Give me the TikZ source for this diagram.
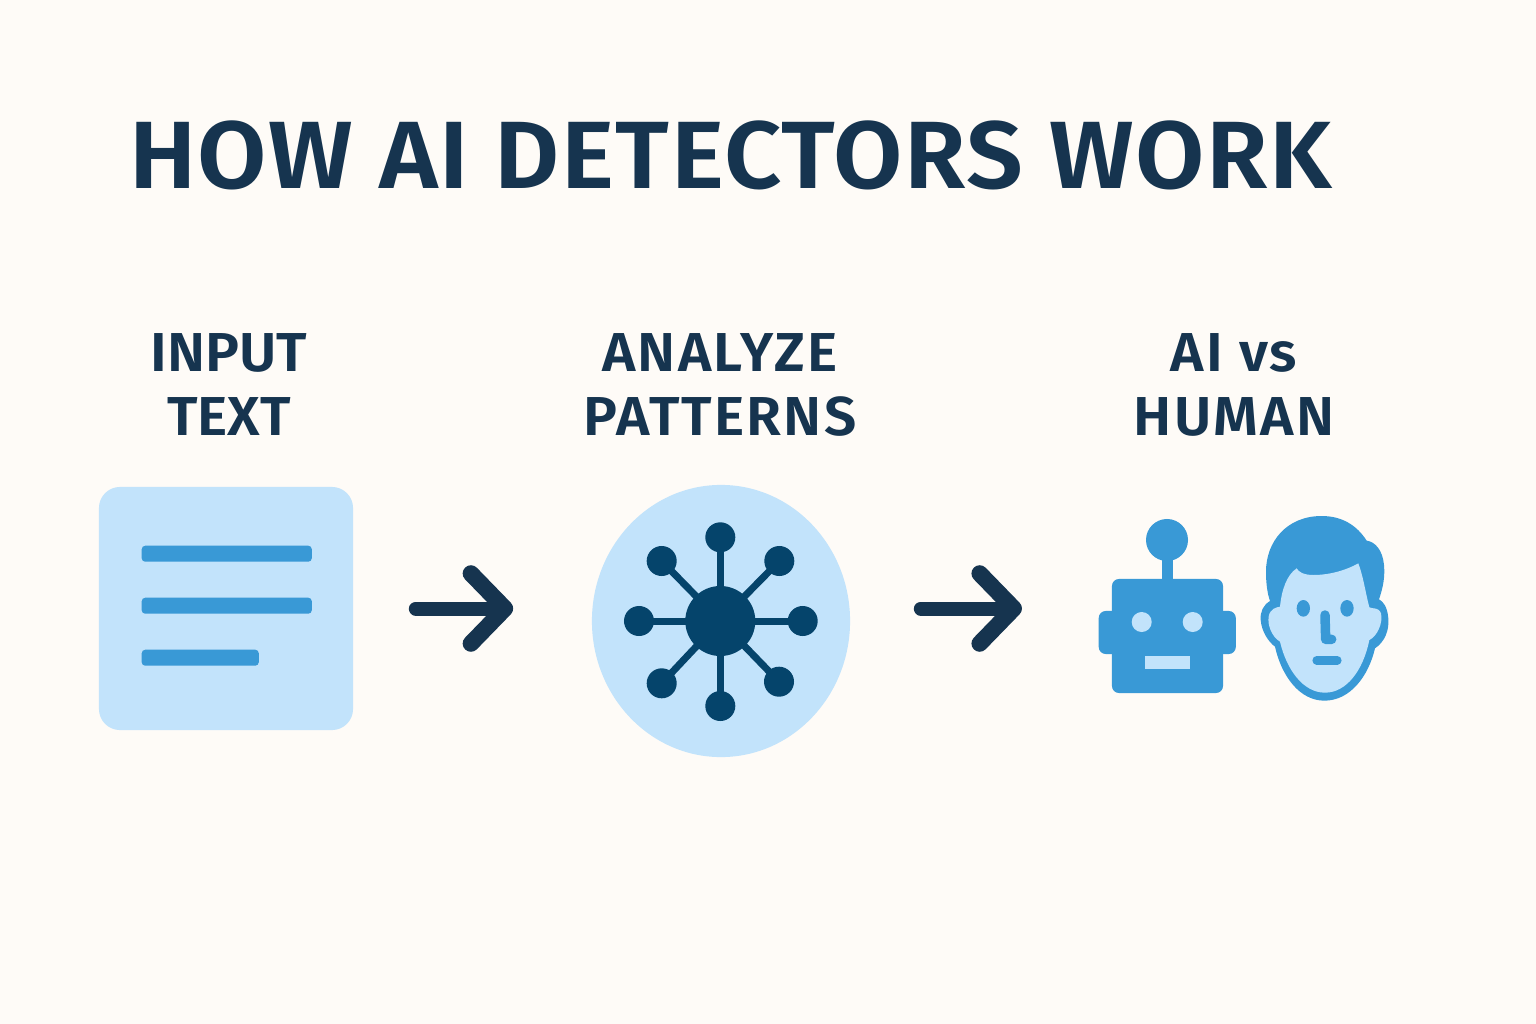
\documentclass[tikz,border=0pt]{standalone}
\usepackage{fontspec}
\usetikzlibrary{shapes.geometric, arrows.meta}
\newfontfamily\headfont[LetterSpace=1.5, FakeStretch=1.05]{Fira Sans SemiBold}
\newfontfamily\stepfont[LetterSpace=4.0, FakeStretch=1.04]{Fira Sans SemiBold}
\newfontfamily\tightfont[FakeStretch=1.04]{Fira Sans SemiBold}
\definecolor{paper}{RGB}{254,251,247}
\definecolor{navy}{RGB}{22,52,79}
\definecolor{pale}{RGB}{194,227,251}
\definecolor{midblue}{RGB}{57,153,214}
\definecolor{deep}{RGB}{5,68,107}

\begin{document}
\begin{tikzpicture}[
    x=0.01cm, y=-0.01cm,
    steplabel/.style={anchor=base, text=navy, inner sep=0pt, font=\stepfont\fontsize{15.6}{18}\selectfont},
    tightlabel/.style={steplabel, font=\tightfont\fontsize{15.6}{18}\selectfont},
    textbar/.style={anchor=north west, fill=midblue, draw=none, rounded corners=1pt, minimum height=0.16cm, inner sep=0pt},
    satellite/.style={circle, fill=deep, minimum size=0.30cm, inner sep=0pt},
    spoke/.style={draw=deep, line width=0.07cm},
    flowarrow/.style={draw=navy, line width=0.14cm, line cap=round, -{Straight Barb[round, length=0.34cm, width=0.70cm, line width=0.165cm]}},
    robotpart/.style={fill=midblue, draw=none, inner sep=0pt, rounded corners=2pt}
]
    % Background and page size
    \fill[paper] (0,0) rectangle (1536,1024);
    \useasboundingbox (0,0) rectangle (1536,1024);

    % Title
    \node[anchor=base, text=navy, inner sep=0pt, font=\headfont\fontsize{27.2}{30}\selectfont] (title) at (730.5,188) {HOW AI DETECTORS WORK};

    % Step labels
    \node[tightlabel] (inputa) at (229,371) {INPUT};
    \node[tightlabel] (inputb) at (229,435) {TEXT};
    \node[steplabel] (analyzea) at (720,371) {ANALYZE};
    \node[steplabel] (analyzeb) at (720,435) {PATTERNS};
    \node[steplabel] (versusa) at (1234,371) {AI vs};
    \node[steplabel] (versusb) at (1234,435) {HUMAN};

    % Input text card
    \node[fill=pale, rounded corners=6pt, minimum width=2.54cm, minimum height=2.43cm, inner sep=0pt] (inputbox) at (226,608.5) {};
    \node[textbar, minimum width=1.70cm] (bara) at (141,545) {};
    \node[textbar, minimum width=1.70cm] (barb) at (141,597) {};
    \node[textbar, minimum width=1.17cm] (barc) at (141,649) {};

    % Pattern network
    \node[ellipse, fill=pale, minimum width=2.58cm, minimum height=2.72cm, inner sep=0pt] (patterncircle) at (721,621) {};
    \node[circle, fill=deep, minimum size=0.70cm, inner sep=0pt] (hub) at (720.3,621) {};
    \foreach \sname/\sx/\sy in {top/720.3/537.3, right/802.7/621, bottom/720.3/706, left/639/621,
                                topleft/661.7/561, topright/779.3/561, bottomleft/661.7/683.3, bottomright/779/681.7} {
        \node[satellite] (\sname) at (\sx,\sy) {};
        \draw[spoke] (hub.center) -- (\sname.center);
    }

    % Flow arrows
    \draw[flowarrow, shorten <=0.62cm, shorten >=0.78cm] (inputbox.east) -- (inputbox.east -| patterncircle.west);

    % Robot
    \node[robotpart, minimum width=0.30cm, minimum height=0.43cm, anchor=west] (earleft) at (1098,632.5) {};
    \node[robotpart, minimum width=0.30cm, minimum height=0.43cm, anchor=east] (earright) at (1236.5,632.5) {};
    \node[robotpart, minimum width=1.11cm, minimum height=1.14cm] (robothead) at (1167.5,636) {};
    \node[circle, fill=midblue, minimum size=0.42cm, inner sep=0pt] (antenna) at (1167,540) {};
    \draw[midblue, line width=0.115cm] (antenna.center) -- (robothead.center |- antenna.center) -- (robothead.center);
    \node[circle, fill=pale, minimum size=0.20cm, inner sep=0pt] (eyeleft) at (1141.7,622) {};
    \node[circle, fill=pale, minimum size=0.20cm, inner sep=0pt] (eyeright) at (1192.7,622) {};
    \node[fill=pale, minimum width=0.456cm, minimum height=0.13cm, inner sep=0pt] (robotmouth) at (1167.5,662.5) {};

    \draw[flowarrow, shorten <=0.70cm, shorten >=0.76cm] (patterncircle.east |- inputbox.east) -- (earleft.west |- inputbox.east);

    % Human face, traced in a 3x grid
    \begin{scope}[shift={(1080,500)}, scale=1/3]
        \fill[midblue] (733,602) .. controls (810,602) and (865,530) .. (885,445)
            .. controls (915,425) and (928,390) .. (925,355)
            .. controls (922,320) and (910,305) .. (897,298)
            .. controls (910,260) and (915,230) .. (912,195)
            .. controls (908,150) and (885,125) .. (860,122)
            .. controls (830,75) and (785,48) .. (725,48)
            .. controls (620,48) and (558,125) .. (558,215)
            .. controls (558,250) and (562,280) .. (570,303)
            .. controls (550,315) and (540,335) .. (542,360)
            .. controls (545,395) and (565,425) .. (585,440)
            .. controls (605,530) and (660,602) .. (733,602) -- cycle;
        \fill[pale] (650,205) .. controls (655,215) and (670,225) .. (700,225)
            .. controls (750,225) and (800,210) .. (835,190)
            .. controls (850,230) and (858,285) .. (868,322)
            .. controls (880,328) and (895,320) .. (903,340)
            .. controls (910,370) and (890,410) .. (868,420)
            .. controls (850,510) and (800,578) .. (735,578)
            .. controls (670,578) and (620,510) .. (600,425)
            .. controls (575,410) and (562,375) .. (566,350)
            .. controls (570,325) and (590,322) .. (600,320)
            .. controls (605,270) and (620,225) .. (650,205) -- cycle;
        \fill[midblue] (670,325) ellipse [x radius=20, y radius=25];
        \fill[midblue] (801,325) ellipse [x radius=20, y radius=25];
        \draw[midblue, line width=0.095cm, line cap=round, line join=round] (735,345) -- (737,418) -- (755,418);
        \draw[midblue, line width=0.085cm, line cap=round] (710,481) -- (772,481);
    \end{scope}
\end{tikzpicture}
\end{document}
